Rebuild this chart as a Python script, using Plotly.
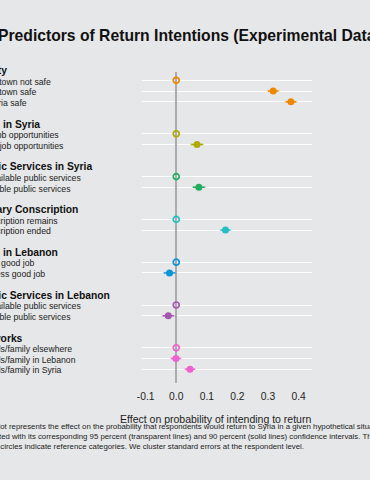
import plotly.graph_objects as go

# ---------------- data ----------------
groups = ["Safety", "Jobs in Syria", "Public Services in Syria", "Military Conscription",
          "Jobs in Lebanon", "Public Services in Lebanon", "Networks"]
group_labels = [
    ["Hometown not safe", "Hometown safe", "All Syria safe"],
    ["Few job opportunities", "Many job opportunities"],
    ["Unavailable public services", "Available public services"],
    ["Conscription remains", "Conscription ended"],
    ["Has a good job", "Has less good job"],
    ["Unavailable public services", "Available public services"],
    ["Friends/family elsewhere", "Friends/family in Lebanon", "Friends/family in Syria"],
]
group_est = [
    [0.0, 0.317, 0.375],
    [0.0, 0.068],
    [0.0, 0.074],
    [0.0, 0.161],
    [0.0, -0.022],
    [0.0, -0.026],
    [0.0, -0.001, 0.045],
]
group_lo95 = [
    [0.0, 0.296, 0.354],
    [0.0, 0.045],
    [0.0, 0.051],
    [0.0, 0.142],
    [0.0, -0.043],
    [0.0, -0.048],
    [0.0, -0.020, 0.026],
]
group_hi95 = [
    [0.0, 0.338, 0.396],
    [0.0, 0.091],
    [0.0, 0.097],
    [0.0, 0.180],
    [0.0, -0.001],
    [0.0, -0.004],
    [0.0, 0.018, 0.064],
]
group_lo90 = [
    [0.0, 0.300, 0.358],
    [0.0, 0.049],
    [0.0, 0.055],
    [0.0, 0.145],
    [0.0, -0.040],
    [0.0, -0.044],
    [0.0, -0.017, 0.029],
]
group_hi90 = [
    [0.0, 0.334, 0.392],
    [0.0, 0.087],
    [0.0, 0.093],
    [0.0, 0.177],
    [0.0, -0.004],
    [0.0, -0.008],
    [0.0, 0.015, 0.061],
]
group_colors = ["#EE8700", "#AFAA00", "#22AE5E", "#22BFC4", "#0C94D8", "#A656AE", "#EE62CF"]
group_colors_light = ["rgba(238,135,0,0.35)", "rgba(175,170,0,0.35)", "rgba(34,174,94,0.35)",
                      "rgba(34,191,196,0.35)", "rgba(12,148,216,0.35)", "rgba(166,86,174,0.35)",
                      "rgba(238,98,207,0.35)"]
x_ticks = [-0.1, 0.0, 0.1, 0.2, 0.3, 0.4]
x_tick_text = ["-0.1", "0.0", "0.1", "0.2", "0.3", "0.4"]

title_text = "Predictors of Return Intentions (Experimental Data)"
x_title = "Effect on probability of intending to return"
caption_lines = [
    "Each dot represents the effect on the probability that respondents would return to Syria in a given hypothetical situation,",
    "estimated with its corresponding 95 percent (transparent lines) and 90 percent (solid lines) confidence intervals. The",
    "hollow circles indicate reference categories. We cluster standard errors at the respondent level.",
]

# ---------------- layout helpers ----------------
W, H = 370, 480
BG = "#E6E7E8"
FONT = "Liberation Sans, Arial, sans-serif"

x0_px, x1_px = 139.0, 311.0
zero_px, unit_px = 173.6, 310.0
y_top_px, y_bot_px = 71.7, 383.3
slot0_px, slot_px = 69.6, 10.7
ANN_DX = -8.5  # compensation for annotation left offset


def px_x(p):
    return p / W


def px_y(p):
    return (H - p) / H


def slot_y(s):
    return px_y(slot0_px + s * slot_px)


fig = go.Figure()
annotations = []
row_slots = []

slot = 0
for gi, g in enumerate(groups):
    header_slot = slot
    annotations.append(dict(text="<b>%s</b>" % g, x=px_x(-23 + ANN_DX), xref="paper",
                            xanchor="left", y=slot_y(header_slot + 0.1), yref="paper",
                            yanchor="middle", showarrow=False,
                            font=dict(size=10.3, color="#111111", family=FONT)))
    ys = []
    for li, lab in enumerate(group_labels[gi]):
        ys.append(header_slot + 1 + li)
        annotations.append(dict(text=lab, x=px_x(-23 + ANN_DX), xref="paper", xanchor="left",
                                y=slot_y(header_slot + 1 + li + 0.12), yref="paper",
                                yanchor="middle", showarrow=False,
                                font=dict(size=8.7, color="#222222", family=FONT)))
    row_slots.extend(ys)
    est = group_est[gi]
    ref_idx = [0]
    eff_idx = [i for i in range(len(est)) if i != 0]
    ex = [est[i] for i in eff_idx]
    ey = [ys[i] for i in eff_idx]
    # 95% CI (transparent)
    fig.add_trace(go.Scatter(
        x=ex, y=ey, mode="markers",
        marker=dict(size=1, opacity=0, color=group_colors[gi]),
        error_x=dict(type="data", symmetric=False,
                     array=[group_hi95[gi][i] - est[i] for i in eff_idx],
                     arrayminus=[est[i] - group_lo95[gi][i] for i in eff_idx],
                     color=group_colors_light[gi], thickness=1.6, width=0),
        showlegend=False, hoverinfo="skip"))
    # 90% CI (solid) + point estimate
    fig.add_trace(go.Scatter(
        x=ex, y=ey, mode="markers",
        marker=dict(size=7, color=group_colors[gi], line=dict(width=0)),
        error_x=dict(type="data", symmetric=False,
                     array=[group_hi90[gi][i] - est[i] for i in eff_idx],
                     arrayminus=[est[i] - group_lo90[gi][i] for i in eff_idx],
                     color=group_colors[gi], thickness=1.4, width=0),
        showlegend=False))
    # reference category
    fig.add_trace(go.Scatter(
        x=[est[i] for i in ref_idx], y=[ys[i] for i in ref_idx], mode="markers",
        marker=dict(size=6, symbol="circle-open", color=group_colors[gi],
                    line=dict(width=1.7, color=group_colors[gi])),
        showlegend=False))
    slot = header_slot + len(group_labels[gi]) + 2

# title
annotations.append(dict(text="<b>%s</b>" % title_text, x=px_x(-0.5 + ANN_DX), xref="paper",
                        xanchor="left", y=px_y(36), yref="paper", yanchor="middle",
                        showarrow=False,
                        font=dict(size=15.7, color="#111111", family=FONT)))
# x-axis title
annotations.append(dict(text=x_title, x=px_x(213.8), xref="paper", xanchor="center",
                        y=px_y(419), yref="paper", yanchor="middle", showarrow=False,
                        font=dict(size=10.5, color="#222222", family=FONT)))
# caption
for i, line in enumerate(caption_lines):
    annotations.append(dict(text=line, x=px_x(-23 + ANN_DX), xref="paper", xanchor="left",
                            y=px_y(426.5 + 10 * i), yref="paper", yanchor="middle",
                            showarrow=False,
                            font=dict(size=7.8, color="#222222", family=FONT)))

fig.update_layout(
    width=W, height=H,
    margin=dict(l=0, r=0, t=0, b=0),
    paper_bgcolor=BG, plot_bgcolor=BG,
    font=dict(family=FONT, color="#222222"),
    annotations=annotations,
    xaxis=dict(domain=[px_x(x0_px), px_x(x1_px)],
               range=[(x0_px - zero_px) / unit_px, (x1_px - zero_px) / unit_px],
               tickvals=x_ticks, ticktext=x_tick_text, showgrid=False,
               zeroline=True, zerolinecolor="#ABABAB", zerolinewidth=1.6,
               showline=False, ticks="outside", ticklen=3, tickcolor="rgba(0,0,0,0)",
               tickfont=dict(size=10.3, color="#222222", family=FONT)),
    yaxis=dict(domain=[px_y(y_bot_px), px_y(y_top_px)],
               range=[(y_bot_px - slot0_px) / slot_px, (y_top_px - slot0_px) / slot_px],
               tickvals=row_slots, showticklabels=False, showgrid=True,
               gridcolor="#FFFFFF", gridwidth=1, zeroline=False, showline=False),
)

fig.write_html(
    "out.html",
    config={"displayModeBar": False},
    post_script="document.body.style.margin='0';document.body.style.overflow='hidden';"
                "document.body.style.background='%s';" % BG,
)
